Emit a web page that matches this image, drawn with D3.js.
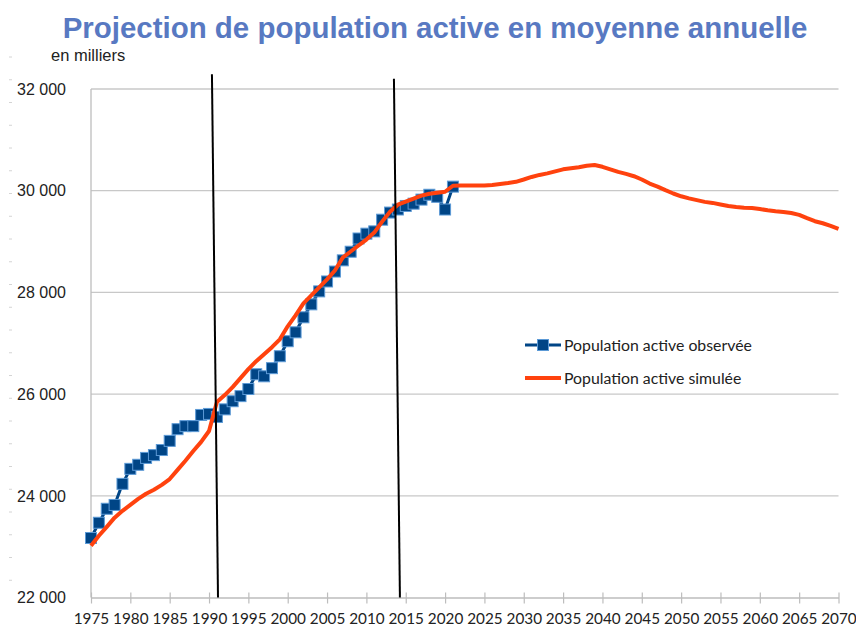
<!DOCTYPE html>
<html><head><meta charset="utf-8">
<script src="https://cdn.jsdelivr.net/npm/d3@7"></script>
<style>html,body{margin:0;padding:0;background:#fff;}svg{display:block;}</style>
</head><body>
<script>
// ---- data ----
const obsYears = d3.range(1975, 2022);
const obsValues = [23170,23470,23745,23820,24235,24530,24610,24745,24800,24900,
  25080,25310,25370,25370,25590,25610,25550,25700,25860,25960,
  26100,26390,26350,26510,26745,27040,27215,27510,27765,28020,
  28215,28410,28630,28800,29060,29155,29200,29430,29570,29630,
  29700,29745,29825,29920,29880,29630,30080];
const simYears = d3.range(1975, 2071);
const simValues = [23020,23215,23390,23570,23705,23820,23940,24040,24120,24215,
  24330,24510,24690,24880,25060,25275,25843,25980,26137,26314,
  26490,26647,26784,26922,27078,27333,27549,27784,27941,28098,
  28255,28431,28686,28804,28922,29039,29176,29392,29588,29725,
  29784,29843,29902,29941,29961,29980,30098,30100,30100,30100,
  30100,30110,30130,30150,30175,30220,30270,30310,30340,30380,
  30420,30440,30460,30490,30505,30470,30420,30370,30330,30285,
  30220,30140,30080,30010,29945,29890,29850,29815,29780,29760,
  29730,29700,29680,29665,29660,29640,29615,29595,29580,29560,
  29525,29460,29400,29360,29310,29250];
const xTicks = d3.range(1975, 2071, 5);
const yTicks = [22000,24000,26000,28000,30000,32000];
// hand-drawn annotation lines: [year at top, value at top, year at bottom, value at bottom]
const markerLines = [[1990.37,32290,1991.14,22000],[2013.5,32200,2014.26,22000]];
const title = "Projection de population active en moyenne annuelle";
const unitLabel = "en milliers";
const legendLabels = ["Population active observée","Population active simulée"];

const W = 856, H = 625;
const svg = d3.select("body").append("svg").attr("width", W).attr("height", H);
svg.append("rect").attr("width", W).attr("height", H).attr("fill", "#fff");

const x = d3.scaleLinear().domain([1975, 2070]).range([91, 838.5]);
const y = d3.scaleLinear().domain([22000, 32000]).range([597.5, 89]);

// faint ruler dashes on far left
svg.append("g").selectAll("line").data(d3.range(57, 595, 22.75)).join("line")
  .attr("x1", 9).attr("x2", 12).attr("y1", d => d).attr("y2", d => d)
  .attr("stroke", "#d4d4d4").attr("stroke-width", 1);

// gridlines
svg.append("g").selectAll("line").data(yTicks.slice(1)).join("line")
  .attr("x1", x(1975)).attr("x2", x(2070)).attr("y1", d => y(d)).attr("y2", d => y(d))
  .attr("stroke", "#c8c8c8").attr("stroke-width", 1.3);

// left axis line
svg.append("line").attr("x1", x(1975)).attr("x2", x(1975)).attr("y1", y(32000)).attr("y2", y(22000))
  .attr("stroke", "#bdbdbd").attr("stroke-width", 1.3);

// y labels
svg.append("g").selectAll("text").data(yTicks).join("text")
  .attr("x", 66).attr("y", d => y(d)).attr("dy", "0.36em")
  .attr("text-anchor", "end").attr("font-family", "Liberation Sans, Arial, sans-serif")
  .attr("font-size", 16).attr("fill", "#222")
  .text(d => d3.format(",")(d).replace(/,/g, " "));

// bottom axis
const xAxis = d3.axisBottom(x).tickValues(xTicks).tickSize(0).tickFormat(d3.format("d"));
const gx = svg.append("g").attr("transform", `translate(0,${y(22000)})`).call(xAxis);
gx.select(".domain").attr("stroke", "#bdbdbd").attr("stroke-width", 1.3);
gx.selectAll(".tick line").remove();
gx.selectAll(".tick").append("line").attr("y1", -5).attr("y2", 6).attr("stroke", "#bdbdbd").attr("stroke-width", 1.2);
gx.selectAll(".tick text").attr("y", 0).attr("dy", 0).attr("transform", "translate(0,26)")
  .attr("font-family", "Lato, sans-serif").attr("font-size", 15.3).attr("fill", "#222");

// title
const t = svg.append("text").attr("x", W / 2 + 7).attr("y", 38).attr("text-anchor", "middle")
  .attr("font-family", "Liberation Sans, Arial, sans-serif").attr("font-weight", "bold")
  .attr("font-size", 100).attr("fill", "#5879c2").text(title);
const tw = t.node().getComputedTextLength();
t.attr("font-size", 100 * 745 / tw);

svg.append("text").attr("x", 51).attr("y", 61).attr("font-family", "Liberation Sans, Arial, sans-serif")
  .attr("font-size", 16.5).attr("fill", "#222").text(unitLabel);

// observed series
const obs = obsYears.map((yr, i) => [yr, obsValues[i]]);
const sim = simYears.map((yr, i) => [yr, simValues[i]]);
const line = d3.line().x(d => x(d[0])).y(d => y(d[1]));
svg.append("path").datum(obs).attr("d", line).attr("fill", "none")
  .attr("stroke", "#004586").attr("stroke-width", 3).attr("stroke-linejoin", "round");
const ms = 11;
svg.append("g").selectAll("rect").data(obs).join("rect")
  .attr("x", d => x(d[0]) - ms / 2).attr("y", d => y(d[1]) - ms / 2)
  .attr("width", ms).attr("height", ms).attr("fill", "#004586")
  .attr("stroke", "#5c9ad6").attr("stroke-width", 1);

// simulated series
svg.append("path").datum(sim).attr("d", line).attr("fill", "none")
  .attr("stroke", "#ff420e").attr("stroke-width", 4).attr("stroke-linejoin", "round");

// annotation vertical lines
svg.append("g").selectAll("line").data(markerLines).join("line")
  .attr("x1", d => x(d[0])).attr("y1", d => y(d[1]))
  .attr("x2", d => x(d[2])).attr("y2", d => y(d[3]))
  .attr("stroke", "#000").attr("stroke-width", 2);

// legend
const lg = svg.append("g");
const lgY = [345, 378];
lg.append("line").attr("x1", 525).attr("x2", 561).attr("y1", lgY[0]).attr("y2", lgY[0])
  .attr("stroke", "#004586").attr("stroke-width", 3);
lg.append("rect").attr("x", 543 - 5.5).attr("y", lgY[0] - 5.5).attr("width", 11).attr("height", 11)
  .attr("fill", "#004586").attr("stroke", "#5c9ad6").attr("stroke-width", 1);
lg.append("line").attr("x1", 525).attr("x2", 561).attr("y1", lgY[1]).attr("y2", lgY[1])
  .attr("stroke", "#ff420e").attr("stroke-width", 4);
const lt = lg.selectAll("text").data(legendLabels).join("text")
  .attr("x", 564).attr("y", (d, i) => lgY[i] + 6)
  .attr("font-family", "Lato, sans-serif").attr("font-size", 100).attr("fill", "#222")
  .text(d => d);
const lw = lt.node().getComputedTextLength();
lt.attr("font-size", 100 * 188 / lw);
</script>
</body></html>
